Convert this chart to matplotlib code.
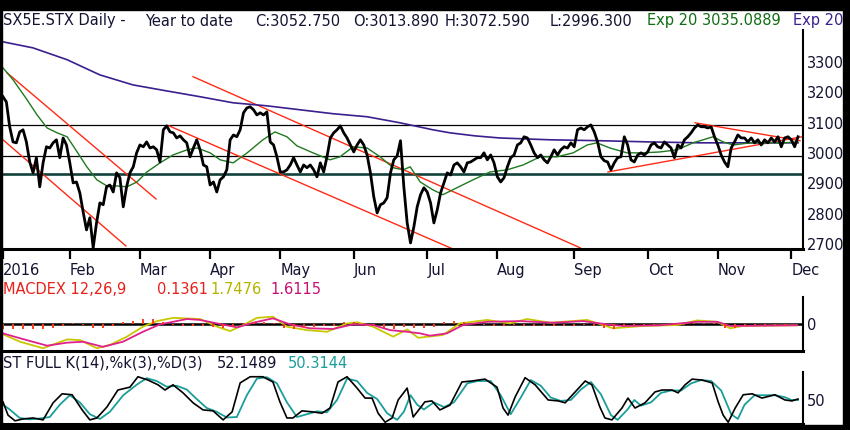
import numpy as np
import matplotlib
matplotlib.use('Agg')
import matplotlib.pyplot as plt
from matplotlib.patches import Rectangle

# daily closes, Jan 4 .. Dec 2 2016 (one value per trading day)
close = [3185, 3168, 3086, 3036, 3033, 3069, 3076, 3036, 2970, 2934, 2984, 2888, 2967, 3020, 3016, 3033, 3043, 2984, 3049, 3026,
         2967, 2901, 2904, 2868, 2805, 2746, 2786, 2687, 2769, 2835, 2829, 2888, 2894, 2871, 2934, 2918, 2822, 2888, 2934, 2954,
         3000, 3026, 3020, 3036, 3016, 3020, 3010, 2970, 3076, 3089, 3069, 3066, 3049, 3056, 3043, 3033, 2987, 3016, 3043, 3010,
         2960, 2954, 2894, 2904, 2871, 2911, 2921, 2944, 3043, 3059, 3053, 3076, 3132, 3148, 3152, 3142, 3125, 3132, 3125, 3135,
         3036, 3026, 2987, 2937, 2937, 2944, 2960, 2984, 2960, 2937, 2960, 2951, 2960, 2944, 2921, 2967, 2937, 2987, 3049, 3066,
         3076, 3089, 3066, 3049, 3026, 3003, 3026, 3043, 3026, 2993, 2934, 2855, 2802, 2829, 2835, 2852, 2934, 2977, 2990, 3040,
         2888, 2769, 2703, 2756, 2822, 2862, 2885, 2871, 2835, 2769, 2812, 2868, 2901, 2934, 2927, 2960, 2967, 2954, 2937, 2967,
         2970, 2977, 2984, 2984, 3000, 2977, 2993, 2967, 2921, 2904, 2918, 2954, 2984, 2993, 3026, 3033, 3053, 3049, 3026, 3000,
         2984, 2993, 2977, 2967, 2987, 3010, 2993, 3010, 3020, 3016, 3033, 3020, 3076, 3082, 3076, 3086, 3092, 3069, 3036, 2987,
         2974, 2970, 2944, 2967, 2984, 2987, 3053, 3026, 2977, 2970, 2993, 3000, 2993, 3003, 3026, 3033, 3020, 3016, 3036, 3026,
         3016, 2984, 3026, 3016, 3043, 3053, 3066, 3082, 3092, 3086, 3086, 3082, 3086, 3053, 3026, 2993, 2970, 2954, 3016, 3036,
         3059, 3049, 3049, 3036, 3049, 3033, 3043, 3026, 3043, 3033, 3049, 3036, 3053, 3020, 3049, 3053, 3043, 3020, 3053]
days = np.arange(len(close))

# exponential averages (trading-day positions)
ema20_day = [0, 3, 7.2, 10.2, 13.2, 16.2, 19.2, 22.2, 25.1, 28.1, 31.1, 34.1, 37.1, 40.1, 43.1, 47.0, 50.9, 55.1, 58.1, 62.0,
             65.0, 68.9, 73.1, 77.8, 81.4, 85.0, 88.0, 92.8, 97.9, 100.9, 104.8, 109.0, 112.9, 116.8, 119.8, 121.9, 124.9, 128.7, 131.7, 135.9,
             140.7, 145.8, 150.9, 155.7, 160.8, 165.9, 170.7, 174.9, 177.8, 181.7, 186.8, 191.6, 196.7, 201.8, 206.6, 212.6, 215.6, 218.6, 223.7, 228.7,
             233.5, 238.0]
ema20 = [3280, 3241, 3175, 3125, 3082, 3066, 3053, 3003, 2954, 2911, 2891, 2891, 2888, 2904, 2937, 2967, 2993, 3010, 3016, 3000,
         2977, 2967, 3000, 3043, 3069, 3053, 3023, 3000, 2977, 2987, 3020, 3016, 2987, 2951, 2944, 2954, 2904, 2878, 2862, 2885,
         2911, 2937, 2944, 2960, 2987, 2987, 3000, 3026, 3033, 3016, 3000, 3000, 3003, 3010, 3033, 3053, 3036, 3026, 3033, 3033,
         3033, 3036]
ema200_day = [0, 9.0, 19.2, 29.0, 38.9, 49.1, 59.0, 68.9, 79.0, 88.9, 98.8, 109.0, 118.9, 128.7, 133.8, 141.3, 148.8, 163.8,
              178.7, 193.7, 208.7, 223.7, 238.0]
ema200 = [3366, 3346, 3307, 3257, 3224, 3204, 3185, 3165, 3155, 3142, 3129, 3119, 3099, 3076, 3066, 3056, 3049, 3043,
          3040, 3036, 3033, 3033, 3033]

# horizontal levels and drawn trend lines (start day, start price, end day, end price)
levels = [3093, 2990]
support = 2930
trends = [(0, 3043, 36.8, 2693),
          (1.2, 3264, 45.8, 2848),
          (49.7, 3089, 134.7, 2683),
          (56.9, 3251, 172.8, 2687),
          (181.1, 2937, 239.2, 3053),
          (207.2, 3099, 238.6, 3040)]

# MACD
macd_day = [0, 5.1, 12.0, 19.2, 23.1, 28.1, 32.0, 37.1, 41.9, 46.1, 50.9, 59.0, 64.1, 68.0, 71.9, 76.0, 80.8, 85.0, 91.0, 97.0,
            103.0, 106.0, 110.8, 116.8, 121.0, 124.3, 131.7, 136.8, 144.9, 151.8, 156.9, 163.8, 174.9, 179.6, 182.6, 191.6, 201.8, 207.8, 213.8, 217.7,
            221.5, 237.7]
macd = [-43, -75, -103, -65, -68, -103, -89, -53, -10, 14, 28, 23, -10, -29, -3, 28, 33, -10, -25, -32,
        4, 9, -10, -53, -22, -58, -46, 4, 19, 4, 23, 7, 19, -3, -17, -7, -3, 17, 11, -17,
        -7, -4]
signal_day = [0, 5.1, 13.2, 19.2, 24.0, 29.9, 35.9, 41.9, 47.0, 55.1, 59.0, 64.1, 70.1, 74.9, 80.8, 85.9, 91.9, 98.8, 104.8, 110.8,
              115.9, 121.0, 124.9, 127.8, 132.9, 137.7, 144.9, 154.8, 164.7, 173.7, 180.8, 185.6, 196.7, 207.8, 213.8, 217.7, 237.7]
signal = [-39, -60, -92, -79, -75, -97, -75, -32, 0, 23, 19, 4, -13, 7, 26, 0, -17, -20, 0, -3,
          -25, -32, -39, -49, -39, -3, 11, 14, 7, 14, 0, -7, -4, 11, 11, -7, -4]
hist_day = np.arange(0, 239, 3)
hist = [-18, -20, -20, -20, -18, -15, -8, 4, -4, -15, -15, -6, 8, 15, 22, 22, 10, -4, -8, -8,
        -8, -12, -15, -12, 6, 12, 12, 6, -15, -20, -15, -10, -8, -5, 8, 8, 4, -4, -15, -18,
        -12, -15, -15, -10, 12, 15, 12, 6, -4, -6, -6, -4, -5, -5, -6, -6, -6, -6, -4, -8,
        -15, -18, -8, -4, -4, -4, -4, -4, -4, 4, 6, 4, -15, -15, -6, -3, -3, -3, -3, 2]

# full stochastic
k_day = [0, 1.5, 3.6, 6.0, 9.0, 12.0, 15.0, 17.7, 20.7, 23.7, 26.0, 28.1, 31.1, 34.4, 38.0, 40.4, 43.4, 46.4, 48.5, 50.9,
         53.9, 56.9, 59.9, 62.9, 65.9, 68.6, 71.0, 74.0, 77.8, 80.8, 82.9, 85.0, 86.8, 89.5, 92.5, 95.5, 97.9, 100.3, 103.0, 106.0,
         108.4, 110.5, 112.3, 114.4, 116.5, 118.3, 121.0, 122.8, 124.9, 126.3, 128.4, 130.8, 133.8, 137.4, 140.4, 144.3, 147.9, 149.7, 151.2, 153.3,
         156.3, 159.3, 163.2, 166.2, 168.3, 171.3, 174.3, 176.3, 178.7, 180.2, 182.3, 185.3, 187.1, 189.2, 192.2, 195.2, 197.3, 200.3, 202.1, 204.2,
         206.3, 209.3, 212.3, 214.1, 215.6, 217.1, 219.2, 221.6, 224.3, 227.2, 231.1, 234.1, 236.2, 238.0]
k_val = [46, 18, 6, 10, 12, 8, 44, 63, 61, 29, 8, 12, 35, 71, 77, 99, 92, 82, 71, 82,
         65, 44, 29, 27, 8, 25, 86, 99, 99, 88, 46, 12, 12, 27, 25, 22, 33, 88, 99, 75,
         54, 54, 22, 3, 12, 50, 75, 14, 33, 46, 48, 29, 39, 88, 90, 94, 77, 33, 18, 56,
         97, 82, 50, 48, 44, 67, 90, 82, 35, 12, 8, 33, 54, 33, 44, 67, 71, 71, 65, 82,
         94, 92, 86, 46, 18, 3, 33, 61, 63, 54, 61, 50, 48, 52]
d_day = [0, 2, 5, 8, 11, 14, 17, 20, 23, 26, 29, 32, 36, 40, 43, 46, 49, 52, 55, 58,
         61, 64, 67, 70, 73, 76, 79, 82, 85, 88, 91, 94, 97, 100, 103, 106, 109, 112, 115, 118,
         120, 122, 124, 126, 129, 132, 135, 139, 142, 146, 149, 152, 155, 158, 161, 164, 167, 170, 173, 176,
         179, 182, 184, 187, 189, 191, 194, 197, 200, 203, 206, 209, 212, 215, 218, 220, 222, 225, 228, 231,
         234, 236, 238]
d_val = [40, 30, 12, 9, 11, 14, 40, 60, 45, 20, 10, 25, 60, 82, 96, 90, 78, 80, 72, 52,
         33, 25, 13, 14, 60, 95, 98, 85, 45, 14, 20, 26, 24, 50, 95, 90, 65, 52, 22, 8,
         25, 60, 40, 30, 45, 35, 45, 85, 90, 90, 60, 20, 55, 92, 80, 55, 48, 50, 72, 88,
         62, 18, 8, 30, 50, 38, 45, 65, 70, 70, 85, 92, 90, 70, 20, 10, 40, 60, 60, 60,
         56, 50, 50]

month_pos = [0, 20, 41, 62, 83, 105, 127, 148, 171, 193, 214, 236]
month_lbl = ['2016', 'Feb', 'Mar', 'Apr', 'May', 'Jun', 'Jul', 'Aug', 'Sep', 'Oct', 'Nov', 'Dec']

W, H = 850, 430
navy = '#141432'
fs = 10.5


def box(x0, y0, x1, y1):
    # pixel box (top-left origin) -> add_axes rect
    return [x0 / W, 1 - y1 / H, (x1 - x0) / W, (y1 - y0) / H]


def label(x, y, s, c):
    fig.text(x / W, 1 - y / H, s, color=c, fontsize=fs, ha='left', va='center')


def style(ax, ylo, yhi):
    ax.set_xlim(0, 239.5)
    ax.set_ylim(ylo, yhi)
    ax.set_facecolor('none')
    for s in ['top', 'left']:
        ax.spines[s].set_visible(False)
    ax.spines['right'].set_linewidth(1.5)
    ax.spines['bottom'].set_linewidth(2.2)
    ax.yaxis.tick_right()
    ax.tick_params(axis='y', length=0, pad=3, labelsize=fs, labelcolor=navy)


fig = plt.figure(figsize=(W / 100, H / 100), dpi=100, facecolor='white')

# price panel
ax1 = fig.add_axes(box(3, 30, 803, 249))
style(ax1, 2683, 3405)
for lv in levels:
    ax1.axhline(lv, color='black', lw=0.9)
ax1.axhline(support, color='#12403c', lw=1.9)
for d0, p0, d1, p1 in trends:
    ax1.plot([d0, d1], [p0, p1], color='#ff2a14', lw=1.0)
ax1.plot(ema200_day, ema200, color='#3b1f8f', lw=1.2)
ax1.plot(ema20_day, ema20, color='#1f7a1f', lw=1.0)
ax1.plot(days, close, color='black', lw=2.0, solid_joinstyle='round')
ax1.set_yticks([2700, 2800, 2900, 3000, 3100, 3200, 3300])
ax1.set_xticks(month_pos)
ax1.set_xticklabels(month_lbl, ha='left')
ax1.tick_params(axis='x', direction='out', length=7, width=1.6, pad=3, labelsize=fs, labelcolor=navy)

# MACD panel
ax2 = fig.add_axes(box(3, 297, 803, 351))
style(ax2, -115, 118)
ax2.axhline(0, color='black', lw=1.8)
ax2.plot(macd_day, macd, color='#c8c800', lw=1.3)
ax2.plot(signal_day, signal, color='#e0208c', lw=1.3)
ax2.vlines(hist_day, 0, hist, color='#ff3a1a', lw=1.4, zorder=3)
ax2.set_xticks([])
ax2.set_yticks([0])

# stochastic panel
ax3 = fig.add_axes(box(3, 372, 803, 424))
style(ax3, -0.7, 109)
ax3.plot(d_day, d_val, color='#1a9e9a', lw=1.3)
ax3.plot(k_day, k_val, color='black', lw=1.2)
ax3.set_xticks([])
ax3.set_yticks([50])

# panel headers
label(3, 21, 'SX5E.STX Daily -', navy)
label(145, 21, 'Year to date', navy)
label(255, 21, 'C:3052.750', navy)
label(353, 21, 'O:3013.890', navy)
label(445, 21, 'H:3072.590', navy)
label(550, 21, 'L:2996.300', navy)
label(647, 21, 'Exp 20 3035.0889', '#0f6e12')
label(793, 21, 'Exp 200', '#3b1f8f')
label(3, 289, 'MACDEX 12,26,9', '#e8201a')
label(157, 289, '0.1361', '#e8201a')
label(210, 289, '1.7476', '#b4b400')
label(270, 289, '1.6115', '#c8106e')
label(3, 363, 'ST FULL K(14),%k(3),%D(3)', navy)
label(217, 363, '52.1489', navy)
label(288, 363, '50.3144', '#1a9e9a')

# black frame round the screenshot
for r in [(0, 0, W, 10), (843, 0, W, H), (0, 425, W, H), (0, 0, 2, H)]:
    fig.add_artist(Rectangle((r[0] / W, 1 - r[3] / H), (r[2] - r[0]) / W, (r[3] - r[1]) / H,
                             transform=fig.transFigure, color='black', zorder=20))

fig.savefig('out.png', dpi=100)
